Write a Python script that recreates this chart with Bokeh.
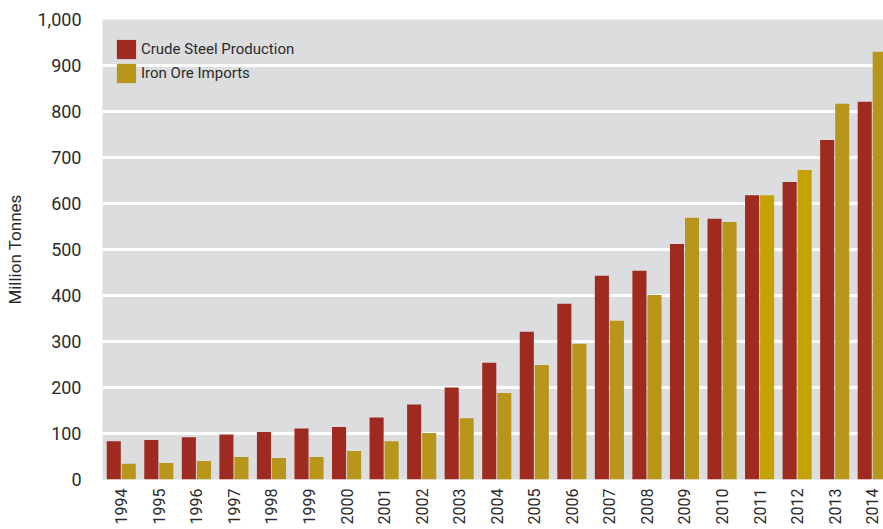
import math
from bokeh.plotting import figure
from bokeh.models import ColumnDataSource, FixedTicker, NumeralTickFormatter, Range1d, Legend
from bokeh.transform import dodge
from bokeh.embed import file_html
from bokeh.resources import INLINE

years = ["1994", "1995", "1996", "1997", "1998", "1999", "2000", "2001", "2002", "2003", "2004",
         "2005", "2006", "2007", "2008", "2009", "2010", "2011", "2012", "2013", "2014"]
steel = [83, 86, 92, 98, 103, 111, 114, 135, 163, 200, 254,
         321, 382, 443, 454, 512, 567, 618, 647, 738, 821]
iron = [34, 36, 40, 49, 47, 49, 62, 83, 101, 133, 188,
        249, 295, 345, 401, 569, 560, 618, 673, 817, 930]

RED = "#9f2a20"
GOLD = "#b8961c"
GOLD2 = "#c4a204"
iron_colors = [GOLD2 if y in ("2011", "2012") else GOLD for y in years]

FONT = "Roboto"
TXT = "#2b2b2b"

src = ColumnDataSource(dict(x=list(range(len(years))), steel=steel, iron=iron, ic=iron_colors))

p = figure(frame_width=781, frame_height=460, output_backend="svg", toolbar_location=None,
           x_range=Range1d(-0.5, 20.3), y_range=Range1d(0, 1000),
           min_border_left=102, min_border_top=19, min_border_right=0, min_border_bottom=50)

r1 = p.vbar(x=dodge("x", -0.2), top="steel", width=0.375, source=src,
            fill_color=RED, line_color=None)
r2 = p.vbar(x=dodge("x", 0.2), top="iron", width=0.375, source=src,
            fill_color="ic", line_color=None)

p.background_fill_color = "#dcdddf"
p.border_fill_color = "white"
p.outline_line_color = None

p.xgrid.grid_line_color = None
p.ygrid.grid_line_color = "white"
p.ygrid.grid_line_width = 3
p.ygrid.ticker = FixedTicker(ticks=list(range(0, 1001, 100)))

p.yaxis.ticker = FixedTicker(ticks=list(range(0, 1001, 100)))
p.yaxis.formatter = NumeralTickFormatter(format="0,0")
p.yaxis.axis_label = "Million Tonnes"
p.yaxis.axis_label_text_font = FONT
p.yaxis.axis_label_text_font_size = "17px"
p.yaxis.axis_label_text_font_style = "normal"
p.yaxis.axis_label_text_color = TXT
p.yaxis.axis_label_standoff = 9
p.yaxis.major_label_standoff = 21

p.xaxis.ticker = FixedTicker(ticks=list(range(len(years))))
p.xaxis.major_label_overrides = {i: y for i, y in enumerate(years)}
p.xaxis.major_label_orientation = math.pi / 2
p.xaxis.major_label_standoff = 9

for ax in (p.xaxis, p.yaxis):
    ax.axis_line_color = None
    ax.major_tick_line_color = None
    ax.minor_tick_line_color = None
    ax.major_tick_out = 0
    ax.major_label_text_font = FONT
    ax.major_label_text_color = TXT
p.yaxis.major_label_text_font_size = "18px"
p.xaxis.major_label_text_font_size = "16px"

legend = Legend(items=[("Crude Steel Production", [r1]), ("Iron Ore Imports", [r2])],
                location=(12, 394), orientation="vertical",
                glyph_width=24, glyph_height=24, label_standoff=3, spacing=0,
                padding=0, margin=0, background_fill_alpha=0, border_line_color=None,
                label_text_font=FONT, label_text_font_size="15px", label_text_color=TXT)
p.add_layout(legend, "center")

open("out.html", "w").write(file_html(p, INLINE))
